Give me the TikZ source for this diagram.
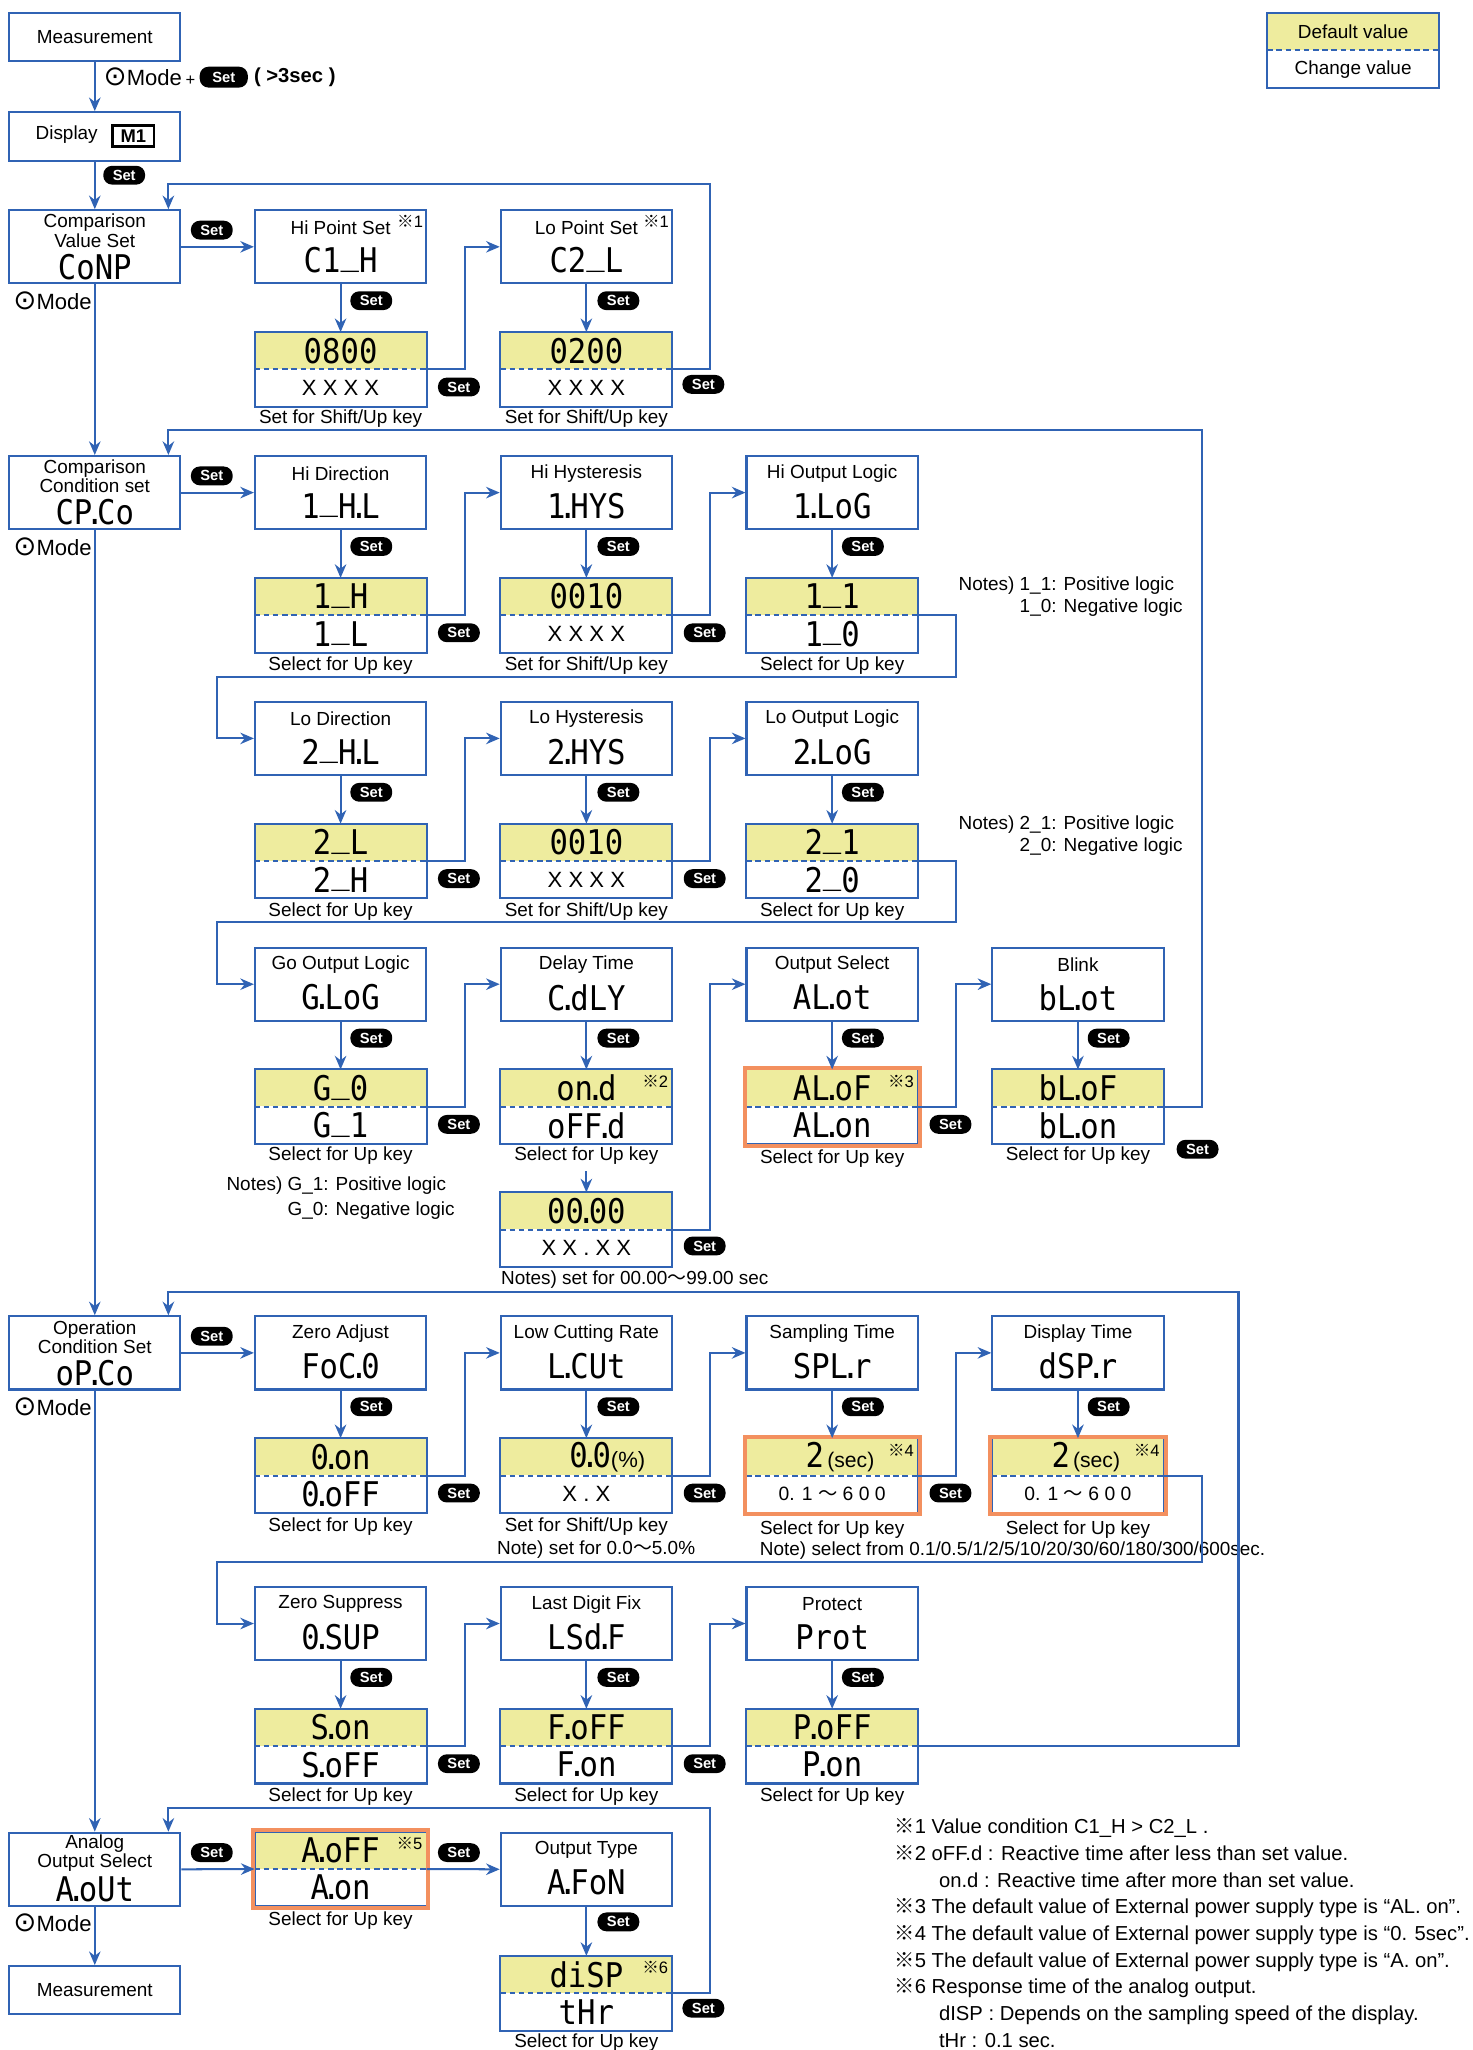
\documentclass[tikz,border=0pt]{standalone}
\usepackage{fontspec}
\setmainfont{Liberation Sans}
\newfontfamily\segfont{DejaVu Sans Mono}[FakeStretch=0.9]
\newfontfamily\symfont{DejaVu Sans}
\newfontfamily\cjk{Noto Sans CJK JP}
\usetikzlibrary{arrows.meta, positioning, calc}
\definecolor{flowblue}{HTML}{3063B4}
\definecolor{lcdyellow}{HTML}{EEEC9E}
\definecolor{hiorange}{HTML}{F3905F}
\newcommand{\sg}{\segfont\fontsize{18.5}{18.5}\selectfont}
\newcommand{\xx}{\fontsize{12}{12}\selectfont}
\newcommand{\us}{\raisebox{.25em}{\_}}
\newcommand{\sdot}{\kern-.2em.\kern-.2em}
\newcommand{\kome}[1]{{\cjk ※}#1}
\newcommand{\wave}{{\cjk ～}}
\newcommand{\modekey}{{\symfont\fontsize{15}{15}\selectfont ⊙}}
% menu box: title line over the display code
\newcommand{\menubox}[5]{%
  \node[menu, anchor=north] (#1) at (#2,#3) {};
  \node[ttl] (#1-t) at ($(#1.north)+(0,14)$) {#4};
  \node[seg] (#1-s) at ($(#1.north)+(0,39)$) {#5};}
\newcommand{\menuboxii}[5]{%
  \node[menu, anchor=north] (#1) at (#2,#3) {};
  \node[ttl, font=\fontsize{10.3}{10.4}\selectfont] (#1-t) at ($(#1.north)+(0,16.5)$) {#4};
  \node[seg] (#1-s) at ($(#1.north)+(0,44)$) {#5};}
% default value (top) over change value (bottom)
\newcommand{\valbox}[5]{%
  \node[dflt, anchor=north] (#1) at (#2,#3) {#4};
  \node[chg, anchor=north] (#1-c) at (#1.south) {#5};
  \draw[vframe] (#1.north west) rectangle (#1-c.south east);
  \draw[dashsep] (#1.south west) -- (#1.south east);}
\newcommand{\hvalbox}[5]{%
  \valbox{#1}{#2}{#3}{#4}{#5}
  \draw[hilite] ($(#1.north west)+(-1.2,-1.2)$) rectangle ($(#1-c.south east)+(1.2,1.2)$);}
\newcommand{\kmark}[2]{%
  \node[anchor=north east, inner sep=0pt, font=\fontsize{9}{9}\selectfont]
    (#1-k) at ($(#1.north east)+(-3,4)$) {\kome{#2}};}

\begin{document}
\begin{tikzpicture}[
  x=0.025cm, y=-0.025cm,
  font=\fontsize{10.3}{12}\selectfont,
  menu/.style={rectangle, draw=flowblue, line width=1.1pt, fill=white,
               minimum width=3.275cm, minimum height=1.4cm, inner sep=0pt},
  endbox/.style={menu, minimum height=0.925cm},
  dflt/.style={rectangle, fill=lcdyellow, minimum width=3.275cm,
               minimum height=0.7cm, inner sep=0pt},
  chg/.style={dflt, fill=white},
  vframe/.style={draw=flowblue, line width=1.1pt},
  hilite/.style={draw=hiorange, line width=2.2pt},
  dashsep/.style={draw=flowblue, line width=1.1pt, dash pattern=on 3pt off 2pt},
  setkey/.style={rectangle, rounded corners=1.7mm, fill=black, text=white,
                 font=\fontsize{8}{8}\selectfont\bfseries, minimum width=0.8cm,
                 minimum height=0.36cm, inner sep=0pt},
  arr/.style={-{Stealth[length=2.6mm, width=2.2mm]}, line width=1.1pt, draw=flowblue},
  ttl/.style={inner sep=0pt, align=center},
  seg/.style={inner sep=0pt, font=\sg},
  capt/.style={inner sep=0pt},
  note/.style={inner sep=0pt, anchor=west, align=left},
  modelbl/.style={inner sep=0pt, anchor=west, font=\fontsize{12}{12}\selectfont},
]
\useasboundingbox (0,0) rectangle (1126,1568);

% ---------------- legend
\valbox{lg}{1035}{10}{Default value}{Change value}

% ---------------- entry
\node[endbox, anchor=north] (meas) at (72.5,9) {Measurement};
\node[endbox, anchor=north] (disp) at (72.5,85) {};
\node[inner sep=0pt] (disp-t) at (51,103) {Display};
\node[draw=black, line width=1.3pt, font=\bfseries, inner sep=0pt,
      minimum width=0.8cm, minimum height=0.4cm] (m1) at (102,104) {M1};
\node[modelbl] (mk0) at (79,59) {\modekey Mode\,{\fontsize{9}{9}\selectfont +}};
\node[setkey, right=2pt of mk0, minimum width=0.92cm, minimum height=0.4cm] (set0) {Set};
\node[inner sep=0pt, font=\fontsize{11}{11}\selectfont\bfseries, right=3pt of set0] (hold) {( >3sec )};

% ---------------- comparison value
\menuboxii{cv}{72.5}{160}{Comparison\\Value Set}{CoNP}
\menubox{hp}{260.5}{160}{Hi Point Set}{C1\us H}
\menubox{lp}{448.5}{160}{Lo Point Set}{C2\us L}
\kmark{hp}{1}\kmark{lp}{1}
\valbox{hpv}{260.5}{254}{\sg 0800}{\xx X X X X}
\valbox{lpv}{448.5}{254}{\sg 0200}{\xx X X X X}

% ---------------- comparison condition
\menuboxii{cc}{72.5}{348}{Comparison\\Condition set}{CP\sdot Co}
\menubox{hd}{260.5}{348}{Hi Direction}{1\us H\sdot L}
\menubox{hh}{448.5}{348}{Hi Hysteresis}{1\sdot HYS}
\menubox{ho}{636.5}{348}{Hi Output Logic}{1\sdot LoG}
\valbox{hdv}{260.5}{442}{\sg 1\us H}{\sg 1\us L}
\valbox{hhv}{448.5}{442}{\sg 0010}{\xx X X X X}
\valbox{hov}{636.5}{442}{\sg 1\us 1}{\sg 1\us 0}
\menubox{ld}{260.5}{536}{Lo Direction}{2\us H\sdot L}
\menubox{lh}{448.5}{536}{Lo Hysteresis}{2\sdot HYS}
\menubox{lo}{636.5}{536}{Lo Output Logic}{2\sdot LoG}
\valbox{ldv}{260.5}{630}{\sg 2\us L}{\sg 2\us H}
\valbox{lhv}{448.5}{630}{\sg 0010}{\xx X X X X}
\valbox{lov}{636.5}{630}{\sg 2\us 1}{\sg 2\us 0}
\menubox{go}{260.5}{724}{Go Output Logic}{G\sdot LoG}
\menubox{dt}{448.5}{724}{Delay Time}{C\sdot dLY}
\menubox{os}{636.5}{724}{Output Select}{AL\sdot ot}
\menubox{bk}{824.5}{724}{Blink}{bL\sdot ot}
\valbox{gov}{260.5}{818}{\sg G\us 0}{\sg G\us 1}
\valbox{dtv}{448.5}{818}{\sg on\sdot d}{\sg oFF\sdot d}
\hvalbox{osv}{636.5}{818}{\sg AL\sdot oF}{\sg AL\sdot on}
\valbox{bkv}{824.5}{818}{\sg bL\sdot oF}{\sg bL\sdot on}
\kmark{dtv}{2}\kmark{osv}{3}
\valbox{dtx}{448.5}{912}{\sg 00\sdot 00}{\xx X X . X X}

% ---------------- operation condition
\menuboxii{oc}{72.5}{1006}{Operation\\Condition Set}{oP\sdot Co}
\menubox{za}{260.5}{1006}{Zero Adjust}{FoC\sdot 0}
\menubox{lc}{448.5}{1006}{Low Cutting Rate}{L\sdot CUt}
\menubox{st}{636.5}{1006}{Sampling Time}{SPL\sdot r}
\menubox{dp}{824.5}{1006}{Display Time}{dSP\sdot r}
\valbox{zav}{260.5}{1100}{\sg 0\sdot on}{\sg 0\sdot oFF}
\valbox{lcv}{448.5}{1100}{\hspace*{0.8cm}{\sg 0\sdot 0}{\fontsize{12}{12}\selectfont(\%)}}{\xx X . X}
\hvalbox{stv}{636.5}{1100}{\hspace*{0.3cm}{\sg 2}\,{\fontsize{11.5}{11.5}\selectfont(sec)}}
  {\fontsize{10.5}{10.5}\selectfont 0. 1 \wave\ 6 0 0}
\hvalbox{dpv}{824.5}{1100}{\hspace*{0.3cm}{\sg 2}\,{\fontsize{11.5}{11.5}\selectfont(sec)}}
  {\fontsize{10.5}{10.5}\selectfont 0. 1 \wave\ 6 0 0}
\kmark{stv}{4}\kmark{dpv}{4}
\menubox{zs}{260.5}{1213}{Zero Suppress}{0\sdot SUP}
\menubox{lf}{448.5}{1213}{Last Digit Fix}{LSd\sdot F}
\menubox{pr}{636.5}{1213}{Protect}{Prot}
\valbox{zsv}{260.5}{1307}{\sg S\sdot on}{\sg S\sdot oFF}
\valbox{lfv}{448.5}{1307}{\sg F\sdot oFF}{\sg F\sdot on}
\valbox{prv}{636.5}{1307}{\sg P\sdot oFF}{\sg P\sdot on}

% ---------------- analog output
\menuboxii{ao}{72.5}{1401}{Analog\\Output Select}{A\sdot oUt}
\hvalbox{aov}{260.5}{1401}{\sg A\sdot oFF}{\sg A\sdot on}
\kmark{aov}{5}
\menubox{ot}{448.5}{1401}{Output Type}{A\sdot FoN}
\valbox{otv}{448.5}{1496}{\sg diSP}{\sg tHr}
\kmark{otv}{6}
\node[endbox, anchor=north] (meas2) at (72.5,1503) {Measurement};

% ---------------- keys and captions
\foreach \x/\y [count=\i] in {95/134,162/176,284/230,351/296,473/230,538/294,
    162/364,284/418,351/484,473/418,539/484,660/418,
    284/606,351/672,473/606,539/672,660/606,
    284/794,351/860,473/794,539/953,660/794,727/860,848/794,916/879,
    162/1022,284/1076,351/1142,473/1076,539/1142,660/1076,727/1142,848/1076,
    284/1283,351/1349,473/1283,539/1349,660/1283,
    162/1417,351/1417,473/1470,538/1536}
  \node[setkey] (set\i) at (\x,\y) {Set};
\foreach \x/\y [count=\i] in {260.5/509,636.5/509,260.5/697,636.5/697,
    260.5/884,448.5/884,636.5/886,824.5/884,260.5/1168,636.5/1170,824.5/1170,
    260.5/1374,448.5/1374,636.5/1374,260.5/1469,448.5/1562}
  \node[capt] (sel\i) at (\x,\y) {Select for Up key};
\foreach \x/\y [count=\i] in {260.5/320,448.5/320,448.5/509,448.5/697,448.5/1168}
  \node[capt] (shf\i) at (\x,\y) {Set for Shift/Up key};
\foreach \y [count=\i] in {230,418,1076,1471}
  \node[modelbl] (mode\i) at (10,\y) {\modekey Mode};

% ---------------- notes
\node[note, anchor=north west, font=\fontsize{10.3}{12}\selectfont] (hinote) at (733,441)
  {Notes) 1\_1: Positive logic\\\phantom{Notes) }1\_0: Negative logic};
\node[note, anchor=north west, font=\fontsize{10.3}{12}\selectfont] (lonote) at (733,624)
  {Notes) 2\_1: Positive logic\\\phantom{Notes) }2\_0: Negative logic};
\node[note, anchor=north west, font=\fontsize{10.3}{13.5}\selectfont] (gonote) at (173,900)
  {Notes) G\_1: Positive logic\\\phantom{Notes) }G\_0: Negative logic};
\node[note] (dtnote) at (383,979) {Notes) set for 00.00\wave 99.00 sec};
\node[capt] (lcnote) at (456,1185) {Note) set for 0.0\wave 5.0\%};
\node[note] (stnote) at (581,1186) {Note) select from 0.1/0.5/1/2/5/10/20/30/60/180/300/600sec.};
\node[note, anchor=north west, font=\fontsize{11}{14.5}\selectfont] (fnotes) at (684,1391) {%
  \kome{1} Value condition C1\_H > C2\_L .\\
  \kome{2} oFF.d : Reactive time after less than set value.\\
  \hspace*{0.85cm}on.d : Reactive time after more than set value.\\
  \kome{3} The default value of External power supply type is “AL. on”.\\
  \kome{4} The default value of External power supply type is “0. 5sec”.\\
  \kome{5} The default value of External power supply type is “A. on”.\\
  \kome{6} Response time of the analog output.\\
  \hspace*{0.85cm}dISP : Depends on the sampling speed of the display.\\
  \hspace*{0.85cm}tHr : 0.1 sec.};

% ---------------- connectors
\draw[arr] (meas) -- (disp);
\draw[arr] (disp) -- (cv);
\draw[arr] (cv) -- (cc);
\draw[arr] (cc) -- (oc);
\draw[arr] (oc) -- (ao);
\draw[arr] (ao) -- (meas2);
% comparison value
\draw[arr] (cv) -- (hp);
\draw[arr] (hp) -- (hpv);
\draw[arr] (hpv.south east) -- ++(29,0) |- (lp.west);
\draw[arr] (lp) -- (lpv);
\draw[arr] (lpv.south east) -- ++(29,0) |- ($(cv.north east)+(-10,-19)$) -- ($(cv.north east)+(-10,0)$);
% comparison condition
\draw[arr] (cc) -- (hd);
\draw[arr] (hd) -- (hdv);
\draw[arr] (hdv.south east) -- ++(29,0) |- (hh.west);
\draw[arr] (hh) -- (hhv);
\draw[arr] (hhv.south east) -- ++(29,0) |- (ho.west);
\draw[arr] (ho) -- (hov);
\draw[arr] (hov.south east) -- ++(29,0) -- ++(0,47) -| ($(ld.west)+(-28,0)$) -- (ld.west);
\draw[arr] (ld) -- (ldv);
\draw[arr] (ldv.south east) -- ++(29,0) |- (lh.west);
\draw[arr] (lh) -- (lhv);
\draw[arr] (lhv.south east) -- ++(29,0) |- (lo.west);
\draw[arr] (lo) -- (lov);
\draw[arr] (lov.south east) -- ++(29,0) -- ++(0,47) -| ($(go.west)+(-28,0)$) -- (go.west);
\draw[arr] (go) -- (gov);
\draw[arr] (gov.south east) -- ++(29,0) |- (dt.west);
\draw[arr] (dt) -- (dtv);
\draw[arr] ($(sel6.south)+(0,5)$) -- (dtx);
\draw[arr] (dtx.south east) -- ++(29,0) |- (os.west);
\draw[arr] (os) -- (osv);
\draw[arr] (osv.south east) -- ++(29,0) |- (bk.west);
\draw[arr] (bk) -- (bkv);
\draw[arr] (bkv.south east) -- ++(29,0) |- ($(cc.north east)+(-10,-19)$) -- ($(cc.north east)+(-10,0)$);
% operation condition
\draw[arr] (oc) -- (za);
\draw[arr] (za) -- (zav);
\draw[arr] (zav.south east) -- ++(29,0) |- (lc.west);
\draw[arr] (lc) -- (lcv);
\draw[arr] (lcv.south east) -- ++(29,0) |- (st.west);
\draw[arr] (st) -- (stv);
\draw[arr] (stv.south east) -- ++(29,0) |- (dp.west);
\draw[arr] (dp) -- (dpv);
\draw[arr] (dpv.south east) -- ++(29,0) -- ++(0,66) -| ($(zs.west)+(-28,0)$) -- (zs.west);
\draw[arr] (zs) -- (zsv);
\draw[arr] (zsv.south east) -- ++(29,0) |- (lf.west);
\draw[arr] (lf) -- (lfv);
\draw[arr] (lfv.south east) -- ++(29,0) |- (pr.west);
\draw[arr] (pr) -- (prv);
\draw[arr] (prv.south east) -- ++(245,0) |- ($(oc.north east)+(-10,-18)$) -- ($(oc.north east)+(-10,0)$);
% analog output
\draw[arr] (ao.east) -- (aov.south west);
\draw[arr] (aov.south east) -- (ot.west);
\draw[arr] (ot) -- (otv);
\draw[arr] (otv.south east) -- ++(29,0) |- ($(ao.north east)+(-10,-18)$) -- ($(ao.north east)+(-10,0)$);
\end{tikzpicture}
\end{document}
